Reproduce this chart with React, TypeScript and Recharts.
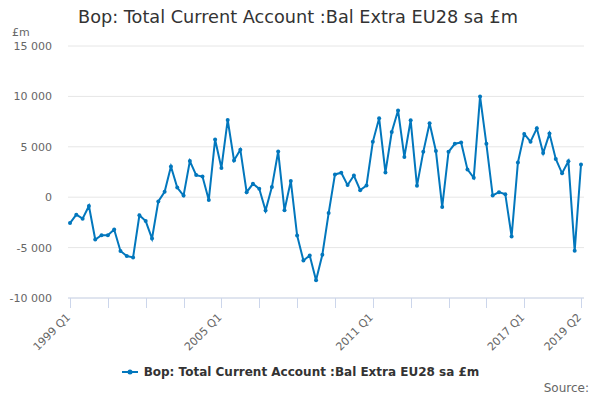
import { LineChart, Line, XAxis, YAxis, CartesianGrid } from "recharts";

const TITLE = "Bop: Total Current Account :Bal Extra EU28 sa £m";

const years = [
  1999, 2000, 2001, 2002, 2003, 2004, 2005, 2006, 2007, 2008, 2009,
  2010, 2011, 2012, 2013, 2014, 2015, 2016, 2017, 2018, 2019,
];

// £m, quarterly 1999 Q1 .. 2019 Q2
const values = [
  -2570, -1730, -2130, -870,
  -4200, -3770, -3770, -3200,
  -5330, -5830, -5970, -1800,
  -2370, -4100, -420, 540,
  3050, 950, 160, 3580,
  2190, 2050, -270, 5720,
  2900, 7660, 3650, 4710,
  500, 1330, 830, -1330,
  1000, 4530, -1300, 1610,
  -3790, -6280, -5790, -8230,
  -5710, -1570, 2260, 2430,
  1200, 2150, 700, 1160,
  5490, 7840, 2460, 6470,
  8610, 4000, 7630, 1130,
  4500, 7340, 4580, -960,
  4500, 5300, 5430, 2760,
  1930, 10000, 5300, 170,
  500, 300, -3900, 3450,
  6280, 5510, 6830, 4380,
  6310, 3800, 2370, 3560,
  -5320, 3240,
];

const quarters = years.flatMap((y) => [1, 2, 3, 4].map((q) => `${y} Q${q}`)).slice(0, values.length);

const tickCategories = ["1999 Q1", "2000 Q3", "2002 Q1", "2003 Q3", "2005 Q1", "2006 Q3", "2008 Q1", "2009 Q3", "2011 Q1", "2012 Q3", "2014 Q1", "2015 Q3", "2017 Q1", "2019 Q2"];
const labelCategories = ["1999 Q1", "2005 Q1", "2011 Q1", "2017 Q1", "2019 Q2"];

const yTicks = [-10000, -5000, 0, 5000, 10000, 15000];

const data = quarters.map((q, i) => ({ quarter: q, value: values[i] }));

const FONT = "'DejaVu Sans', sans-serif";
const COLOR = "#0277bd";
const AXIS = "#ccd6eb";

const fmt = (v: number) => {
  const s = Math.abs(v).toString().replace(/\B(?=(\d{3})+(?!\d))/g, " ");
  return v < 0 ? `-${s}` : s;
};

// tick mark drawn here too (snapped to half pixel), label only on the yearly ones
function XTick(props: any) {
  const { x, y, payload } = props;
  const showLabel = labelCategories.includes(payload.value);
  const lx = Math.round(x) + 0.5;
  const ax = x + 1;
  const ay = y + 8;
  return (
    <g>
      <line x1={lx} y1={y - 12} x2={lx} y2={y - 2} stroke={AXIS} strokeWidth={1} />
      {showLabel && (
        <text
          x={ax}
          y={ay}
          transform={`rotate(-45, ${ax}, ${ay})`}
          textAnchor="end"
          fontSize={11}
          fontFamily={FONT}
          fill="#666666"
        >
          {payload.value}
        </text>
      )}
    </g>
  );
}

export default function App() {
  return (
    <div style={{ position: "absolute", left: 0, top: 0, width: 600, height: 400, background: "#fff", fontFamily: FONT }}>
      <div style={{ position: "absolute", left: 0, top: 7, width: 600, textAlign: "center", fontSize: 17.7, color: "#333333", paddingRight: 4, boxSizing: "border-box" }}>
        {TITLE}
      </div>
      <div style={{ position: "absolute", left: 12, top: 26, fontSize: 11, color: "#666666" }}>£m</div>
      <div style={{ position: "absolute", left: 0, top: 365, width: 600, display: "flex", justifyContent: "center", alignItems: "center" }}>
        <svg width={18} height={10} style={{ marginRight: 5 }}>
          <line x1={1} y1={5} x2={17} y2={5} stroke={COLOR} strokeWidth={2} />
          <circle cx={9} cy={5} r={2.5} fill={COLOR} />
        </svg>
        <span style={{ fontSize: 12, fontWeight: "bold", color: "#333333" }}>{TITLE}</span>
      </div>
      <div style={{ position: "absolute", right: 11, top: 381, fontSize: 12, color: "#666666" }}>Source:</div>
      <LineChart width={600} height={400} data={data} margin={{ top: 46, right: 16, bottom: 38, left: 8 }}>
        <CartesianGrid vertical={false} stroke="#e6e6e6" />
        <XAxis
          dataKey="quarter"
          ticks={tickCategories}
          interval={0}
          tick={<XTick />}
          tickSize={10}
          tickMargin={2}
          tickLine={false}
          stroke={AXIS}
          axisLine={{ stroke: AXIS }}
          padding={{ left: 2, right: 3 }}
          height={64}
        />
        <YAxis
          domain={[-10000, 15000]}
          ticks={yTicks}
          tickFormatter={fmt}
          axisLine={false}
          tickLine={false}
          tickSize={0}
          tickMargin={16}
          width={60}
          tick={{ fontSize: 11, fontFamily: FONT, fill: "#666666" }}
        />
        <Line
          type="linear"
          dataKey="value"
          stroke={COLOR}
          strokeWidth={2}
          dot={{ r: 2, fill: COLOR, stroke: COLOR, strokeWidth: 0 }}
          activeDot={false}
          isAnimationActive={false}
        />
      </LineChart>
    </div>
  );
}
